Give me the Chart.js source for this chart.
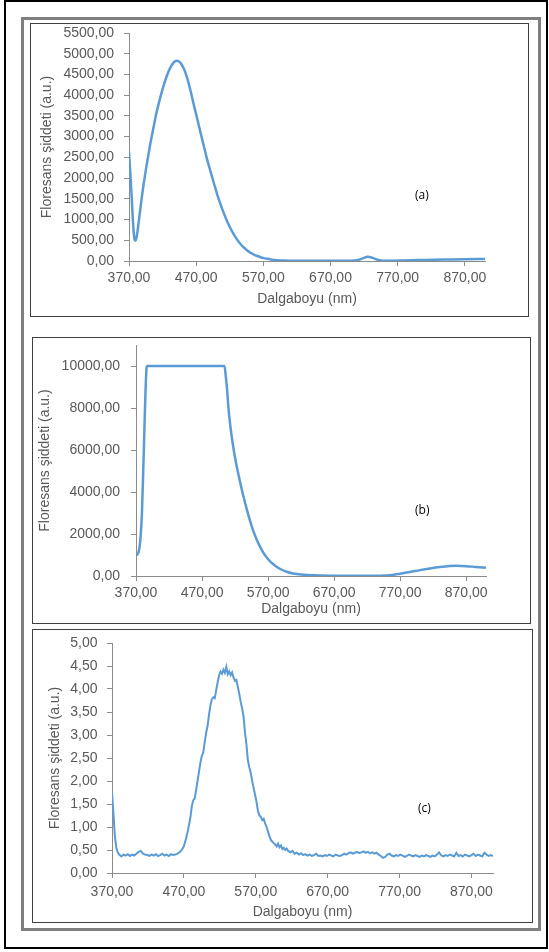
<!DOCTYPE html>
<html><head><meta charset="utf-8">
<script src="https://cdn.jsdelivr.net/npm/chart.js@4.4.0/dist/chart.umd.min.js"></script>
<style>
html,body{margin:0;padding:0;background:#fff;width:549px;height:952px;overflow:hidden;}
.abs{position:absolute;box-sizing:border-box;}
#outer{left:4px;top:0;width:544px;height:949px;border:2px solid #000;}
#frame{left:21px;top:17px;width:520px;height:914px;border:3px solid #7f7f7f;}
.panel{border:1px solid #3f3f3f;background:#fff;}
#pa{left:30px;top:23px;width:499px;height:294px;}
#pb{left:32px;top:337px;width:499px;height:287px;}
#pc{left:32px;top:629px;width:501px;height:294px;}
canvas{position:absolute;}
.tag{position:absolute;font-family:'Open Sans',sans-serif;font-size:12px;color:#000;line-height:14px;}
</style></head>
<body>
<div id="outer" class="abs"></div>
<div id="frame" class="abs"></div>
<div id="pa" class="abs panel"></div>
<div id="pb" class="abs panel"></div>
<div id="pc" class="abs panel"></div>
<canvas id="ca" width="496" height="291" style="left:31px;top:24px;width:496px;height:291px"></canvas>
<canvas id="cb" width="496" height="284" style="left:33px;top:338px;width:496px;height:284px"></canvas>
<canvas id="cc" width="498" height="291" style="left:33px;top:630px;width:498px;height:291px"></canvas>
<div id="ta" class="tag" style="left:415px;top:188px"></div>
<div id="tb" class="tag" style="left:415px;top:503px"></div>
<div id="tc" class="tag" style="left:418px;top:801px"></div>
<script>
// ---- data ----
const wavelengthA = [370,372,374,376,378,379,380,382,384,386,388,390,393,396,401,406,411,416,421,426,431,436,441,446,451,456,461,466,471,476,481,486,491,496,501,506,511,516,521,526,531,536,541,546,551,556,561,566,571,576,581,591,601,621,641,681,701,711,719,725,731,738,745,755,780,810,840,870,900];
const intensityA  = [2640,2100,1550,920,540,490,500,640,880,1150,1400,1650,1980,2290,2760,3180,3580,3910,4200,4450,4650,4780,4830,4790,4660,4450,4150,3800,3470,3130,2800,2470,2180,1900,1620,1380,1160,960,790,640,515,410,325,255,200,155,120,92,70,52,38,20,12,6,4,4,8,25,70,100,85,40,15,8,15,25,35,45,50];

const wavelengthB = [370,372,374,375.5,377,379,381.5,384,386,387,504,506,508,510,513,518,523,528,533,538,543,548,553,558,563,568,573,578,583,590,598,608,620,640,670,720,740,755,770,785,800,815,830,845,855,870,885,900];
const intensityB  = [1000,1020,1150,1400,1900,3000,5600,8400,9900,10000,10000,9500,8850,8000,7100,6000,5150,4420,3750,3150,2600,2110,1720,1390,1100,880,700,560,440,310,200,120,70,30,15,10,15,40,110,190,280,360,430,480,490,470,430,395];

const wavelengthC = [370,372,374,376,378,380,383,386,389,392,395,398,401,404,407,410,413,416,419,422,425,428,431,434,437,440,443,446,449,452,455,458,461,464,467,470,473,476,479,481,483,485,487,489,491,493,495,497,499,501,503,505,507,509,511,513,515,517,519,521,523,525,527,529,531,533,535,537,539,541,543,545,547,549,551,553,555,557,559,561,563,565,567,569,571,573,575,577,579,581,583,585,587,589,591,593,595,597,599,601,603,605,607,609,611,613,615,618,621,624,627,630,633,636,639,642,645,648,651,654,657,660,663,666,669,672,675,678,681,684,687,690,693,696,699,702,705,708,711,714,717,720,723,726,729,732,735,738,741,744,747,750,753,756,759,762,765,768,771,774,777,780,783,786,789,792,795,798,801,804,807,810,813,816,819,822,825,828,831,834,837,840,843,846,849,852,855,858,861,864,867,870,873,876,879,882,885,888,891,894,897,900];
const intensityC  = [1.75,1.30,0.80,0.55,0.45,0.40,0.36,0.40,0.38,0.41,0.37,0.40,0.38,0.42,0.46,0.48,0.42,0.40,0.39,0.37,0.40,0.38,0.41,0.37,0.39,0.42,0.38,0.40,0.37,0.41,0.39,0.40,0.42,0.45,0.50,0.58,0.75,0.95,1.20,1.45,1.58,1.62,1.80,2.00,2.20,2.40,2.55,2.62,2.85,3.05,3.20,3.45,3.65,3.78,3.82,3.80,3.98,4.15,4.30,4.38,4.33,4.42,4.35,4.48,4.32,4.38,4.30,4.36,4.25,4.18,4.20,4.05,3.90,3.72,3.58,3.40,3.05,2.80,2.45,2.30,2.18,2.00,1.85,1.70,1.55,1.35,1.25,1.22,1.15,1.18,1.08,1.00,0.90,0.80,0.72,0.68,0.65,0.62,0.58,0.64,0.56,0.60,0.52,0.55,0.50,0.53,0.48,0.45,0.48,0.42,0.44,0.40,0.43,0.39,0.41,0.38,0.40,0.37,0.39,0.42,0.37,0.38,0.36,0.39,0.37,0.40,0.38,0.36,0.40,0.38,0.37,0.39,0.42,0.40,0.43,0.45,0.42,0.44,0.46,0.43,0.45,0.47,0.44,0.46,0.43,0.45,0.42,0.44,0.40,0.37,0.33,0.35,0.40,0.42,0.38,0.36,0.39,0.37,0.40,0.38,0.35,0.37,0.40,0.38,0.36,0.39,0.37,0.35,0.38,0.36,0.39,0.37,0.35,0.38,0.36,0.40,0.45,0.38,0.36,0.39,0.37,0.40,0.38,0.36,0.44,0.37,0.39,0.36,0.40,0.38,0.36,0.39,0.42,0.37,0.40,0.38,0.36,0.44,0.40,0.37,0.39,0.37];

const xTickValues = [370,470,570,670,770,870];
const yTicksA = [0,500,1000,1500,2000,2500,3000,3500,4000,4500,5000,5500];
const yTicksB = [0,2000,4000,6000,8000,10000];
const yTicksC = [0,0.5,1,1.5,2,2.5,3,3.5,4,4.5,5];
const axisTitleX = 'Dalgaboyu (nm)';
const axisTitleY = 'Floresans şiddeti (a.u.)';
const panelTags = ['(a)','(b)','(c)'];

// ---- drawing ----
const LINE = '#5B9BD5', AX = '#8c8c8c', TXT = '#595959';
const FONT = {family:"'Liberation Sans', Arial, sans-serif", size:14};
const fmt = v => Number(v).toFixed(2).replace('.', ',');

function makeChart(id, xs, ys, o){
  new Chart(document.getElementById(id), {
    type:'line',
    data:{datasets:[{data: xs.map((x,i)=>({x:x, y:ys[i]})), borderColor:LINE, borderWidth:o.lw, pointRadius:0, fill:false,
      cubicInterpolationMode: o.smooth ? 'monotone' : 'default', tension:0}]},
    options:{
      responsive:false, animation:false, devicePixelRatio:1,
      layout:{padding:{left:0,right:o.padR,top:o.padT,bottom:0}},
      plugins:{legend:{display:false}, tooltip:{enabled:false}},
      scales:{
        x:{type:'linear', min:370, max:900,
          afterBuildTicks: s=>{ s.ticks = xTickValues.map(v=>({value:v})); },
          afterFit: s=>{ s.height=o.xH; s.paddingLeft=0; s.paddingRight=0; s.paddingTop=0; s.paddingBottom=0; },
          ticks:{autoSkip:false, maxRotation:0, minRotation:0, padding:o.xTickPad, color:TXT, font:FONT, callback:v=>fmt(v)},
          grid:{display:true, drawOnChartArea:false, drawTicks:true, tickLength:5, color:AX},
          border:{display:true, color:AX, width:1},
          title:{display:true, text:axisTitleX, color:TXT, font:FONT, padding:{top:0,bottom:o.xTitlePad}}
        },
        y:{type:'linear', min:0, max:o.yMax,
          afterBuildTicks: s=>{ s.ticks = o.yTicks.map(v=>({value:v})); },
          afterFit: s=>{ s.width=o.yW; s.paddingLeft=0; s.paddingRight=0; s.paddingTop=0; s.paddingBottom=0; },
          ticks:{autoSkip:false, padding:o.yTickPad, color:TXT, font:FONT, callback:v=>fmt(v)},
          grid:{display:true, drawOnChartArea:false, drawTicks:true, tickLength:5, color:AX},
          border:{display:true, color:AX, width:1},
          title:{display:true, text:axisTitleY, color:TXT, font:FONT, padding:{top:o.yTitlePad,bottom:0}}
        }
      }
    }
  });
}

makeChart('ca', wavelengthA, intensityA, {lw:2.5, smooth:true, padR:42, padT:9, xH:54, yW:98, yMax:5500, yTicks:yTicksA, xTickPad:4, xTitlePad:7.6, yTickPad:10, yTitlePad:7.6});
makeChart('cb', wavelengthB, intensityB, {lw:2.5, smooth:true, padR:43, padT:7, xH:46, yW:103, yMax:11000, yTicks:yTicksB, xTickPad:4, xTitlePad:4.6, yTickPad:11, yTitlePad:3.6});
makeChart('cc', wavelengthC, intensityC, {lw:2, smooth:false, padR:38, padT:13, xH:48, yW:79, yMax:5, yTicks:yTicksC, xTickPad:5.6, xTitlePad:0.6, yTickPad:9.5, yTitlePad:13.6});

document.getElementById('ta').textContent = panelTags[0];
document.getElementById('tb').textContent = panelTags[1];
document.getElementById('tc').textContent = panelTags[2];
</script>
</body></html>
